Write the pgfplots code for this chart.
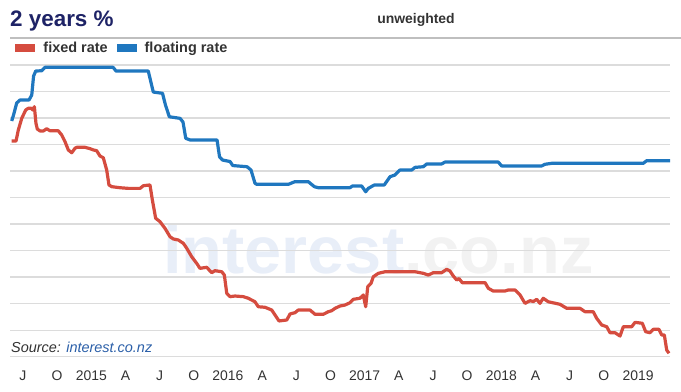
\documentclass[border=0pt]{standalone}
\usepackage{pgfplots}
\pgfplotsset{compat=1.18}
\usepackage{fontspec}
\setmainfont{Liberation Sans}
\definecolor{fixedred}{HTML}{D54C3F}
\definecolor{floatblue}{HTML}{1F77BF}
\definecolor{titlenavy}{HTML}{1E2366}
\definecolor{gridgrey}{HTML}{DCDCDC}
\definecolor{wmblue}{HTML}{E8EEF8}
\definecolor{wmgrey}{HTML}{F2F2F2}
\definecolor{srcblue}{HTML}{2B5FA8}
\definecolor{textgrey}{HTML}{333333}
\begin{document}
\begin{tikzpicture}[x=1bp,y=1bp]
\path[use as bounding box] (-10,-34.3) rectangle (671,356.7);
% watermark
\node[anchor=base west, inner sep=0, font=\fontsize{67}{67}\selectfont\bfseries] at (153,83.7) {\color{wmblue}interest\color{wmgrey}.co.nz};
% title
\node[anchor=base west, inner sep=0, font=\fontsize{22.5}{22.5}\selectfont\bfseries, text=titlenavy] at (0,330.7) {2 years \%};
\node[anchor=base, inner sep=0, font=\fontsize{14}{14}\selectfont\bfseries, text=textgrey] at (406,333.7) {unweighted};
\draw[color=black!25, line width=1.3bp] (0,318.7) -- (671,318.7);
\begin{axis}[
  at={(0,0)}, anchor=south west, scale only axis,
  width=660bp, height=291.7bp,
  xmin=-7.14, xmax=50.81, ymin=4, ymax=6.75,
  axis line style={draw=none}, major tick length=0pt,
  ytick={4,4.25,4.5,4.75,5,5.25,5.5,5.75,6,6.25,6.5,6.75},
  yticklabels={},
  ymajorgrids, grid style={gridgrey, line width=1.3bp},
  xtick={-6,-3,0,3,6,9,12,15,18,21,24,27,30,33,36,39,42,45,48},
  xticklabels={J,O,2015,A,J,O,2016,A,J,O,2017,A,J,O,2018,A,J,O,2019},
  xticklabel style={anchor=base, yshift=-24bp, font=\fontsize{14}{14}\selectfont, text=textgrey},
  clip=false,
  legend columns=-1,
  legend style={at={(axis description cs:0.008,1.058)}, anchor=west, draw=none, fill=none,
    font=\fontsize{14.5}{14.5}\selectfont\bfseries, text=textgrey, inner sep=0pt,
    /tikz/every odd column/.append style={column sep=6bp},
    /tikz/every even column/.append style={column sep=7bp}},
  legend image code/.code={\fill[#1, draw=none] (0bp,-4bp) rectangle (20bp,4bp);},
]
\addplot[fixedred, line width=3.2bp, line join=round] coordinates {
(-6.99,6.033) (-6.61,6.033) (-6.41,6.137) (-6.11,6.247) (-5.76,6.326) (-5.53,6.342) (-5.29,6.342) (-5.14,6.326) (-5.00,6.357) (-4.86,6.200) (-4.74,6.146) (-4.50,6.128) (-4.21,6.128) (-3.92,6.149) (-3.63,6.130) (-2.90,6.130) (-2.60,6.090) (-2.31,6.027) (-2.02,5.949) (-1.72,5.923) (-1.43,5.965) (-1.28,5.974) (-0.55,5.974) (-0.11,5.961) (0.18,5.949) (0.47,5.942) (0.76,5.892) (1.05,5.876) (1.35,5.760) (1.55,5.619) (1.79,5.603) (2.52,5.593) (3.25,5.587) (4.28,5.587) (4.57,5.612) (5.15,5.619) (5.36,5.477) (5.65,5.305) (6.03,5.273) (6.47,5.210) (6.91,5.131) (7.20,5.110) (7.64,5.100) (8.08,5.069) (8.38,5.022) (8.81,4.943) (9.25,4.880) (9.54,4.833) (10.13,4.843) (10.57,4.792) (10.86,4.811) (11.45,4.801) (11.68,4.770) (11.89,4.598) (12.18,4.566) (12.62,4.572) (13.35,4.566) (13.78,4.551) (14.37,4.518) (14.66,4.471) (15.25,4.466) (15.84,4.440) (16.13,4.393) (16.48,4.337) (17.16,4.346) (17.45,4.403) (17.88,4.415) (18.17,4.440) (19.20,4.440) (19.64,4.400) (20.37,4.400) (20.81,4.424) (21.11,4.434) (21.40,4.456) (21.84,4.478) (22.27,4.487) (22.71,4.509) (23.00,4.541) (23.59,4.551) (23.88,4.582) (24.09,4.471) (24.27,4.660) (24.56,4.692) (24.76,4.754) (25.20,4.786) (25.79,4.801) (28.42,4.801) (29.15,4.786) (29.59,4.770) (30.03,4.792) (30.76,4.792) (31.20,4.824) (31.49,4.808) (31.78,4.761) (32.08,4.723) (32.28,4.737) (32.57,4.698) (34.57,4.698) (34.86,4.645) (35.29,4.619) (36.32,4.619) (36.61,4.629) (37.20,4.629) (37.64,4.582) (38.08,4.503) (38.52,4.528) (38.81,4.520) (39.11,4.541) (39.39,4.503) (39.68,4.551) (40.12,4.518) (41.15,4.494) (41.74,4.456) (42.91,4.456) (43.35,4.424) (44.07,4.424) (44.37,4.362) (44.81,4.299) (45.25,4.283) (45.54,4.226) (45.98,4.226) (46.42,4.195) (46.71,4.283) (47.45,4.283) (47.74,4.324) (48.38,4.315) (48.67,4.236) (49.05,4.226) (49.34,4.258) (49.84,4.258) (50.08,4.205) (50.31,4.205) (50.52,4.063) (50.72,4.032)
};
\addlegendentry{fixed rate}
\addplot[floatblue, line width=3.2bp, line join=round] coordinates {
(-6.99,6.222) (-6.83,6.278) (-6.55,6.392) (-6.26,6.420) (-5.47,6.420) (-5.23,6.467) (-5.07,6.646) (-4.88,6.693) (-4.35,6.696) (-4.07,6.728) (1.91,6.728) (2.17,6.693) (5.00,6.693) (5.44,6.495) (6.25,6.483) (6.51,6.373) (6.85,6.262) (7.79,6.247) (8.05,6.212) (8.29,6.059) (8.67,6.043) (11.04,6.043) (11.26,5.883) (11.52,5.854) (12.18,5.840) (12.42,5.802) (13.67,5.791) (14.02,5.760) (14.37,5.635) (14.52,5.625) (17.30,5.625) (17.88,5.650) (19.05,5.650) (19.58,5.603) (19.93,5.593) (22.71,5.593) (22.92,5.609) (23.74,5.609) (24.09,5.555) (24.32,5.587) (24.85,5.619) (25.72,5.619) (26.23,5.697) (26.66,5.713) (27.10,5.760) (28.13,5.760) (28.42,5.785) (29.15,5.791) (29.45,5.817) (30.76,5.817) (31.05,5.835) (35.73,5.835) (36.03,5.798) (39.54,5.798) (39.83,5.814) (40.42,5.823) (48.46,5.823) (48.76,5.848) (50.81,5.848)
};
\addlegendentry{floating rate}
\end{axis}
\node[anchor=base west, inner sep=0, font=\fontsize{14.5}{14.5}\selectfont\itshape] at (1,4.7) {\color{textgrey}Source: \color{srcblue}interest.co.nz};
\end{tikzpicture}
\end{document}
